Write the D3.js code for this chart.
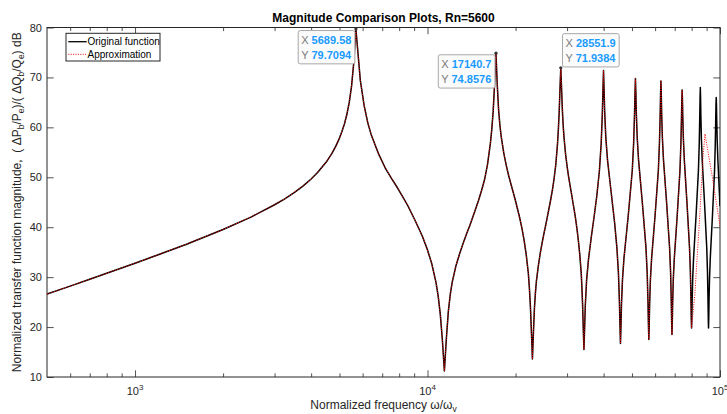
<!DOCTYPE html>
<html>
<head>
<meta charset="utf-8">
<script src="https://cdn.jsdelivr.net/npm/d3@7"></script>
<style>
  html, body { margin: 0; padding: 0; background: #fff; }
  svg { display: block; font-family: Arial, "Liberation Sans", Helvetica, sans-serif; }
  .pre { white-space: pre; }
</style>
</head>
<body>
<div id="chart"></div>
<script>
// Magnitude comparison, Rn=5600 -- original function vs approximation
// values (dB vs normalized frequency)

const freqOrig = [
  500, 600, 700, 800, 1000, 1200, 1500, 2000, 2500, 3000, 3250, 3500, 3750, 4000, 4200, 4500, 4700, 4850, 5000, 5100, 5200, 5300, 5400, 5500, 5600, 5689.58,
  5892, 6074, 6255, 6437, 6800, 7164, 7528, 7892, 8230, 8565, 9060, 9602, 9966, 10329, 10693, 10875, 11056, 11238, 11420,
  11602, 11784, 11965, 12147, 12511, 12874, 13238, 13602, 13940, 14275, 14610, 14948, 15312, 15676, 16039, 16403, 16585, 16767, 16948, 17140.7,
  17312, 17494, 17675, 17857, 18221, 18584, 18948, 19312, 19650, 19985, 20320, 20658, 21022, 21386, 21749, 22113, 22295, 22476, 22658, 22840,
  23022, 23204, 23385, 23567, 23931, 24294, 24658, 25022, 25360, 25695, 26030, 26368, 26732, 27096, 27460, 27823, 28005, 28187, 28368, 28551.9,
  28732, 28914, 29095, 29277, 29641, 30004, 30368, 30732, 31070, 31405, 31740, 32078, 32442, 32806, 33170, 33533, 33715, 33897, 34078, 34260,
  34442, 34624, 34987, 35532, 36300, 37115, 37900, 38698, 39243, 39606, 39788, 39970,
  40152, 40334, 40697, 41242, 42030, 42825, 43620, 44408, 44953, 45316, 45498, 45680,
  45862, 46044, 46407, 46952, 48535, 50118, 50663, 51026, 51208, 51390,
  51572, 51754, 52117, 52662, 54245, 55828, 56373, 56736, 56918, 57100,
  57282, 57464, 57827, 58372, 59955, 61538, 62083, 62446, 62628, 62810,
  62992, 63174, 63537, 64082, 65665, 67248, 67793, 68156, 68338, 68520,
  68702, 68884, 69247, 69792, 71375, 72958, 73503, 73866, 74048, 74230,
  74412, 74594, 74957, 75502, 77085, 78668, 79213, 79576, 79758, 79940,
  80122, 80304, 80667, 81212, 82795, 84378, 84923, 85286, 85468, 85650,
  85832, 86014, 86377, 86922, 88505, 90088, 90633, 90996, 91178, 91360,
  91542, 91724, 92087, 92632, 94215, 95798, 96343, 96706, 96888, 97070,
  97252, 97434, 97797, 98342, 100000
];

const magOrig = [
  26.6, 28.2, 29.58, 30.77, 32.79, 34.48, 36.6, 39.54, 42.08, 44.5, 45.69, 46.93, 48.24, 49.66, 50.89, 53.0, 54.68, 56.14, 57.85, 59.2, 60.7, 62.62, 65.0, 68.3, 73.2, 79.7094,
  69.4, 64.3, 60.8, 58.3, 54.7, 51.9, 49.8, 47.9, 46.1, 44.3, 41.4, 38.2, 35.7, 32.8, 28.9, 26.2, 22.6, 17.5, 11.2,
  17.8, 23.2, 26.6, 29.0, 32.3, 34.7, 36.8, 38.7, 40.3, 42.0, 43.7, 45.4, 47.4, 49.6, 52.6, 56.8, 59.6, 63.2, 68.5, 74.8576,
  68.63, 63.6, 60.5, 58.2, 54.9, 52.4, 50.3, 48.5, 46.9, 45.3, 43.6, 41.9, 39.8, 37.4, 34.5, 30.8, 27.9, 24.2, 19.0, 13.6,
  19.0, 23.8, 26.9, 29.2, 32.3, 34.8, 36.9, 38.8, 40.4, 42.1, 43.8, 45.5, 47.5, 49.8, 52.6, 56.7, 59.5, 62.9, 67.6, 71.9384,
  67.72, 63.4, 60.4, 58.1, 54.7, 52.2, 50.1, 48.3, 46.7, 45.0, 43.4, 41.7, 39.6, 37.2, 34.4, 30.8, 28.0, 24.5, 19.8, 15.5,
  19.8, 24.2, 29.4, 33.7, 38.0, 42.1, 46.2, 51.3, 56.8, 62.8, 67.4, 71.4,
  67.5, 63.2, 58.0, 53.5, 49.2, 45.0, 40.9, 35.9, 30.8, 24.8, 20.3, 16.7,
  20.28, 24.59, 29.5, 33.8, 42.2, 51.3, 56.8, 62.78, 66.78, 69.8,
  66.78, 62.78, 57.9, 53.5, 45.0, 35.9, 30.8, 24.73, 20.66, 17.5,
  20.66, 24.73, 29.6, 33.8, 42.2, 51.3, 56.8, 62.68, 66.53, 69.3,
  66.53, 62.68, 57.9, 53.5, 45.0, 35.9, 30.8, 24.94, 21.16, 18.5,
  21.16, 24.94, 29.7, 33.8, 42.2, 51.3, 56.7, 62.21, 65.48, 67.5,
  65.48, 62.21, 57.7, 53.5, 45.0, 35.9, 30.9, 25.28, 21.92, 19.8,
  21.92, 25.28, 29.8, 33.8, 42.2, 51.3, 56.7, 62.35, 65.78, 68.0,
  65.78, 62.35, 57.7, 53.5, 45.0, 35.9, 30.9, 25.28, 21.92, 19.8,
  21.92, 25.28, 29.8, 33.8, 42.2, 51.3, 56.5, 61.7, 64.5, 66.0,
  64.5, 61.7, 57.5, 53.5, 44.2
];

// approximation follows the original up to here, then has its own last hump
const approxSplit = 79940;
const approxTailFreq = [82000, 85000, 87500, 88850, 90500, 94000, 100000];
const approxTailMag  = [26.4, 41.0, 54.0, 58.7, 55.9, 50.3, 40.2];

// data tips
const tipFreq = [5689.58, 17140.7, 28551.9];
const tipMag  = [79.7094, 74.8576, 71.9384];
const tipXText = ['5689.58', '17140.7', '28551.9'];
const tipYText = ['79.7094', '74.8576', '71.9384'];
const tipSide = ['left', 'left', 'right'];

const xMajor = [1e3, 1e4, 1e5];
const xMinor = [600, 700, 800, 900, 2000, 3000, 4000, 5000, 6000, 7000, 8000, 9000,
                20000, 30000, 40000, 50000, 60000, 70000, 80000, 90000];
const yTicks = [10, 20, 30, 40, 50, 60, 70, 80];

const W = 727, H = 414;
const m = { top: 27.5, right: 7, bottom: 37, left: 47 };
const axisColor = '#262626';
const majorLen = 6.7, minorLen = 3.6;

const x = d3.scaleLog().domain([500, 1e5]).range([m.left, W - m.right]);
const y = d3.scaleLinear().domain([10, 80]).range([H - m.bottom, m.top]);

const svg = d3.select('#chart').append('svg')
  .attr('width', W)
  .attr('height', H)
  .attr('viewBox', [0, 0, W, H]);

svg.append('rect').attr('width', W).attr('height', H).attr('fill', '#fff');

svg.append('defs').append('clipPath').attr('id', 'plotClip')
  .append('rect')
    .attr('x', m.left).attr('y', m.top)
    .attr('width', W - m.left - m.right)
    .attr('height', H - m.top - m.bottom);

// ticks (inward, box on)
function styleAxis(g) {
  g.select('.domain').remove();
  g.selectAll('line').attr('stroke', axisColor).attr('stroke-width', 0.8);
  g.selectAll('text').attr('fill', axisColor).attr('font-size', 11);
}

svg.append('g').attr('transform', `translate(0,${H - m.bottom})`)
  .call(d3.axisBottom(x).tickValues(xMajor).tickSize(-majorLen).tickFormat(''))
  .call(styleAxis);
svg.append('g').attr('transform', `translate(0,${H - m.bottom})`)
  .call(d3.axisBottom(x).tickValues(xMinor).tickSize(-minorLen).tickFormat(''))
  .call(styleAxis);
svg.append('g').attr('transform', `translate(0,${m.top})`)
  .call(d3.axisTop(x).tickValues(xMajor).tickSize(-majorLen).tickFormat(''))
  .call(styleAxis);
svg.append('g').attr('transform', `translate(0,${m.top})`)
  .call(d3.axisTop(x).tickValues(xMinor).tickSize(-minorLen).tickFormat(''))
  .call(styleAxis);
svg.append('g').attr('transform', `translate(${m.left},0)`)
  .call(d3.axisLeft(y).tickValues(yTicks).tickSize(-majorLen).tickPadding(5).tickFormat(d3.format('d')))
  .call(styleAxis);
svg.append('g').attr('transform', `translate(${W - m.right},0)`)
  .call(d3.axisRight(y).tickValues(yTicks).tickSize(-majorLen).tickFormat(''))
  .call(styleAxis);

// x tick labels 10^n
const xl = svg.append('g').attr('fill', axisColor).attr('font-size', 11);
xMajor.forEach(v => {
  const t = xl.append('text')
    .attr('x', x(v)).attr('y', 395)
    .attr('text-anchor', 'middle');
  t.append('tspan').text('10');
  t.append('tspan').attr('font-size', 8).attr('dy', -5).text(Math.round(Math.log10(v)));
});

// box
svg.append('rect')
  .attr('x', m.left).attr('y', m.top)
  .attr('width', W - m.left - m.right)
  .attr('height', H - m.top - m.bottom)
  .attr('fill', 'none')
  .attr('stroke', axisColor)
  .attr('stroke-width', 1);

// curves
const origPts = freqOrig.map((f, i) => [f, magOrig[i]]);
const approxPts = origPts.filter(d => d[0] <= approxSplit)
  .concat(approxTailFreq.map((f, i) => [f, approxTailMag[i]]));

const line = d3.line().x(d => x(d[0])).y(d => y(d[1]));

const plot = svg.append('g').attr('clip-path', 'url(#plotClip)');
plot.append('path')
  .datum(origPts)
  .attr('d', line)
  .attr('fill', 'none')
  .attr('stroke', '#000')
  .attr('stroke-width', 1.5)
  .attr('stroke-linejoin', 'round');
plot.append('path')
  .datum(approxPts)
  .attr('d', line)
  .attr('fill', 'none')
  .attr('stroke', '#ff0000')
  .attr('stroke-width', 1)
  .attr('stroke-dasharray', '1,1.4');

// title and labels
svg.append('text')
  .attr('x', (m.left + W - m.right) / 2).attr('y', 22)
  .attr('text-anchor', 'middle')
  .attr('font-size', 12).attr('font-weight', 'bold').attr('fill', '#000')
  .text('Magnitude Comparison Plots, Rn=5600');

const xlab = svg.append('text')
  .attr('x', (m.left + W - m.right) / 2).attr('y', 409)
  .attr('text-anchor', 'middle')
  .attr('font-size', 12).attr('fill', axisColor);
xlab.append('tspan').text('Normalized frequency ');
xlab.append('tspan').text('ω/ω');
xlab.append('tspan').attr('font-size', 8.5).attr('dy', 3).text('v');

const ylab = svg.append('text')
  .attr('class', 'pre')
  .attr('transform', `translate(21,${(m.top + H - m.bottom) / 2}) rotate(-90)`)
  .attr('text-anchor', 'middle')
  .attr('font-size', 12).attr('fill', axisColor);
[['Normalized transfer function magnitude,  ( ΔP', 0], ['b', 3], ['/P', -3], ['e', 3],
 [')/( ΔQ', -3], ['b', 3], ['/Q', -3], ['e', 3], [') dB', -3]].forEach(([s, dy]) => {
  const ts = ylab.append('tspan').attr('dy', dy).text(s);
  if (dy > 0) ts.attr('font-size', 8.5);
});

// legend
const lg = svg.append('g');
lg.append('rect')
  .attr('x', 66).attr('y', 33.3).attr('width', 94).attr('height', 27.7)
  .attr('fill', '#fff').attr('stroke', axisColor).attr('stroke-width', 1);
lg.append('line').attr('x1', 68.3).attr('x2', 86.7).attr('y1', 41.7).attr('y2', 41.7)
  .attr('stroke', '#000').attr('stroke-width', 1.3);
lg.append('line').attr('x1', 68.3).attr('x2', 86.7).attr('y1', 54.3).attr('y2', 54.3)
  .attr('stroke', '#ff0000').attr('stroke-width', 1).attr('stroke-dasharray', '1,1.4');
lg.append('text').attr('x', 87.5).attr('y', 45.2).attr('font-size', 10).attr('fill', '#000')
  .text('Original function');
lg.append('text').attr('x', 87.5).attr('y', 57.8).attr('font-size', 10).attr('fill', '#000')
  .text('Approximation');

// data tips
const tipH = 33.3;
tipFreq.forEach((f, i) => {
  const px = x(f), py = y(tipMag[i]);
  const g = svg.append('g');
  const box = g.append('rect');
  const tx = g.append('text').attr('font-size', 11);
  tx.append('tspan').attr('fill', '#7a7a7a').text('X ');
  tx.append('tspan').attr('fill', '#1a9bff').attr('font-weight', 'bold').text(tipXText[i]);
  const ty = g.append('text').attr('font-size', 11);
  ty.append('tspan').attr('fill', '#7a7a7a').text('Y ');
  ty.append('tspan').attr('fill', '#1a9bff').attr('font-weight', 'bold').text(tipYText[i]);
  const tw = Math.max(tx.node().getComputedTextLength(), ty.node().getComputedTextLength());
  const bw = tw + 6.5;
  let bx, by;
  if (tipSide[i] === 'left') { bx = px - bw - 1; by = py + 1.6; }
  else { bx = px + 1.7; by = py - 0.8 - tipH; }
  box.attr('x', bx).attr('y', by).attr('width', bw).attr('height', tipH)
    .attr('rx', 2).attr('fill', '#fbfbfb').attr('stroke', '#a8a8a8').attr('stroke-width', 1);
  tx.attr('x', bx + 3).attr('y', by + 13.3);
  ty.attr('x', bx + 3).attr('y', by + 28.3);
  g.append('circle').attr('cx', px).attr('cy', py).attr('r', 1.6).attr('fill', '#333');
});
</script>
</body>
</html>
